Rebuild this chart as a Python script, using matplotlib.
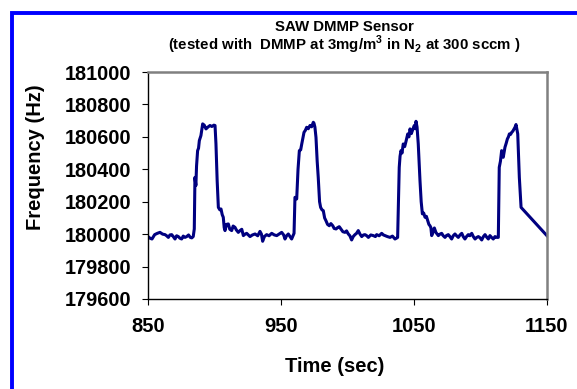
import matplotlib.pyplot as plt
from matplotlib.patches import Rectangle

# values
time_sec = [850, 851.5, 853, 855, 857, 859, 861, 862.8, 864, 865.3, 866.5, 867.8, 869, 870.3,
            871.5, 872.8, 874, 875.3, 876.5, 877.8, 879.1, 880.5, 881.8, 882.9, 884, 884.8,
            885.3, 886, 886.5, 887.3, 888, 888.6, 889.8, 891.1, 892.3, 893.6, 895, 896.6, 898,
            899.5, 900.4, 901.1, 902, 902.9, 904, 904.9, 905.8, 906.6, 907.3, 907.9, 909, 910.4,
            911.5, 912.9, 914, 915.4, 916.5, 917.9, 919.2, 920.5, 921.7, 923, 924.2, 925.5,
            926.7, 928.5, 930.5, 932.5, 934.2, 935.3, 936.2, 937.5, 939.2, 941, 943, 945, 946.8,
            948.5, 950.5, 952, 953, 954.2, 955.5, 956.8, 958, 959, 959.8, 960.5, 961.8, 962.8,
            963.8, 964.8, 965.6, 967.3, 968.3, 969.3, 970.5, 971.8, 973, 974.3, 974.8, 975.5,
            976.3, 977.2, 978, 979, 979.8, 980.8, 981.8, 982.8, 983.8, 985, 986.3, 987.5, 988.9,
            990, 991.4, 992.5, 993.8, 995.2, 996.5, 998.1, 999.3, 1000.6, 1001.8, 1003.1,
            1004.3, 1005.6, 1006.8, 1008.1, 1009.4, 1010.7, 1012, 1013.2, 1014.5, 1015.7,
            1017.5, 1019.4, 1021, 1021.9, 1023.8, 1025.7, 1027, 1028.2, 1030, 1032, 1033.8,
            1035.7, 1036.8, 1037.7, 1038.9, 1039.5, 1040.2, 1041, 1041.9, 1043, 1043.8, 1045.3,
            1046.2, 1047, 1048, 1048.8, 1050.2, 1051, 1051.5, 1052.3, 1053.2, 1054.5, 1055.4,
            1056.3, 1057.3, 1058.3, 1059.3, 1060.3, 1061.2, 1062, 1062.7, 1063.3, 1064.2,
            1065.3, 1066.5, 1068.3, 1069.5, 1070.8, 1072, 1073.3, 1074.5, 1075.8, 1077, 1078.3,
            1079.5, 1080.8, 1082, 1083.3, 1084.6, 1085.9, 1087, 1088.3, 1089.5, 1090.8, 1092,
            1093.4, 1094.6, 1095.9, 1097.2, 1098.4, 1099.6, 1100.9, 1102.2, 1103.4, 1104.6,
            1105.9, 1107.1, 1108.3, 1109.6, 1110.9, 1112.2, 1113.4, 1114.1, 1115, 1115.9,
            1117.1, 1118.4, 1119.3, 1120.2, 1121, 1121.7, 1122.6, 1123.5, 1124.3, 1125.2, 1126,
            1126.7, 1128, 1129.2, 1130.5, 1150]
freq_hz = [179985, 179975, 179970, 179997, 180005, 180011, 180000, 179997, 179990, 179980,
           179995, 179997, 179985, 179970, 179990, 179985, 179975, 179970, 179988, 179980,
           179985, 179995, 179980, 179977, 179985, 180032, 180350, 180300, 180420, 180515,
           180530, 180577, 180608, 180680, 180672, 180649, 180660, 180670, 180664, 180672,
           180670, 180556, 180330, 180165, 180150, 180155, 180120, 180104, 180040, 180022,
           180060, 180063, 180030, 180022, 180050, 180042, 180025, 180011, 180022, 180030,
           179991, 180000, 180005, 179995, 179985, 179995, 180001, 179990, 180017, 180000,
           179956, 179985, 179997, 179990, 180005, 179995, 179991, 180000, 180011, 179995,
           179970, 179990, 180001, 179985, 179970, 179990, 180005, 180227, 180217, 180400,
           180515, 180520, 180556, 180628, 180640, 180659, 180650, 180670, 180662, 180690,
           180684, 180660, 180597, 180450, 180350, 180200, 180165, 180150, 180145, 180100,
           180083, 180060, 180052, 180065, 180052, 180035, 180032, 180040, 180046, 180030,
           180015, 180011, 180020, 180001, 179990, 179964, 179985, 179997, 180005, 180022,
           180000, 179985, 179995, 179997, 179990, 179980, 179995, 179991, 179985, 179997,
           179990, 180005, 179995, 179991, 179985, 179980, 179988, 179970, 179975, 179980,
           180412, 180480, 180515, 180500, 180556, 180540, 180566, 180618, 180600, 180649,
           180620, 180639, 180670, 180650, 180696, 180660, 180556, 180330, 180200, 180125,
           180130, 180104, 180110, 180083, 180060, 180052, 180040, 179991, 180010, 180038,
           180010, 179991, 180000, 180005, 179990, 179980, 179992, 179997, 179985, 179970,
           179990, 180001, 179990, 179980, 179995, 180005, 179985, 179970, 179985, 179997,
           179990, 180005, 179985, 179970, 179980, 179985, 179978, 179964, 179985, 179997,
           179982, 179970, 179991, 179980, 179970, 179985, 179980, 179980, 180412, 180450,
           180515, 180474, 180536, 180560, 180587, 180600, 180618, 180615, 180628, 180635,
           180649, 180660, 180676, 180618, 180350, 180165, 179990]
x_ticks = [850, 950, 1050, 1150]
y_ticks = [179600, 179800, 180000, 180200, 180400, 180600, 180800, 181000]

plt.rcParams['font.family'] = ['Liberation Sans', 'DejaVu Sans']
plt.rcParams['mathtext.fontset'] = 'custom'
plt.rcParams['mathtext.rm'] = 'Liberation Sans:bold'
plt.rcParams['mathtext.bf'] = 'Liberation Sans:bold'

W, H = 577, 389
fig = plt.figure(figsize=(W / 100, H / 100), dpi=100)
ax = fig.add_axes([148 / W, 1 - 299 / H, (547 - 148) / W, (299 - 72) / H])

ax.plot(time_sec, freq_hz, color='#000080', linewidth=2.2)

ax.set_xlim(850, 1150)
ax.set_ylim(179600, 181000)
ax.set_xticks(x_ticks)
ax.set_yticks(y_ticks)
ax.set_xticklabels([str(v) for v in x_ticks], fontsize=14.5, fontweight='bold')
ax.set_yticklabels([str(v) for v in y_ticks], fontsize=14.3, fontweight='bold')
ax.tick_params(axis='both', direction='out', length=4, width=0.8, color='black')
ax.tick_params(axis='x', pad=9)
ax.tick_params(axis='y', pad=8)

for s in ['left', 'bottom']:
    ax.spines[s].set_color('black')
    ax.spines[s].set_linewidth(1.0)
for s in ['top', 'right']:
    ax.spines[s].set_color('#808080')
    ax.spines[s].set_linewidth(1.8)

# two-line title as one text, placed like the original Excel chart
fig.text(344 / W, 1 - 20 / H,
         'SAW DMMP Sensor\n' + r'(tested with  DMMP at 3mg/m$^{3}$ in N$_{2}$ at 300 sccm )',
         ha='center', va='top', multialignment='center', linespacing=1.0,
         fontsize=10.8, fontweight='bold')
fig.text(36 / W, 1 - 157.5 / H, 'Frequency (Hz)', rotation=90, ha='center', va='center',
         fontsize=14.5, fontweight='bold')
fig.text(335 / W, 1 - 366 / H, 'Time (sec)', ha='center', va='center',
         fontsize=14.5, fontweight='bold')

# blue outer frame, only left and top visible
fig.add_artist(Rectangle((12 / W, -0.5), 2, 0.5 + 1 - 13 / H, transform=fig.transFigure,
                         fill=False, edgecolor='#0000FF', linewidth=2.8))

fig.savefig('out.png', dpi=100)
